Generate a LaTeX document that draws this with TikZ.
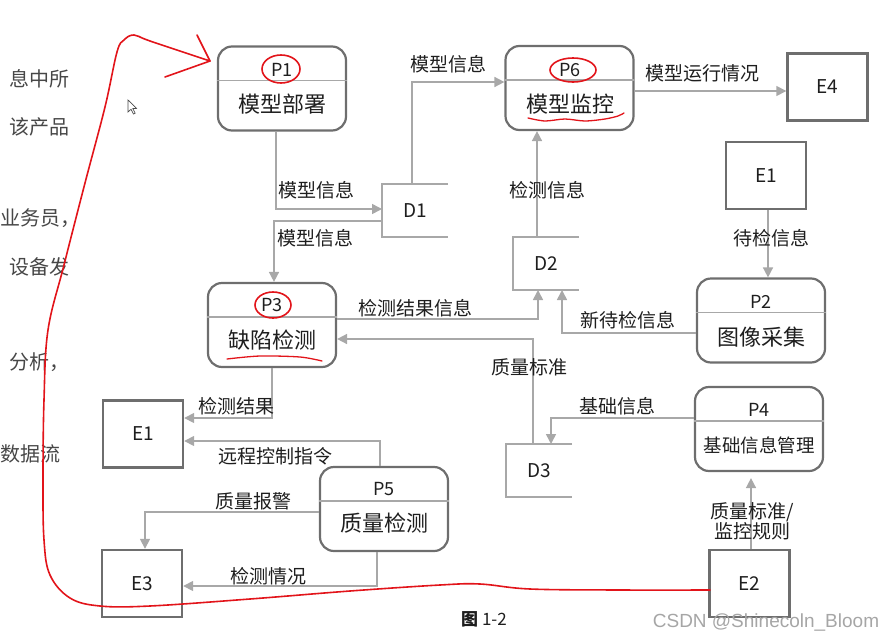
\documentclass[tikz,border=0pt]{standalone}
\usepackage{fontspec}
\setmainfont{Noto Sans CJK SC}
\newfontfamily\wmfont{Liberation Sans}
\usetikzlibrary{arrows.meta}
\definecolor{boxc}{HTML}{6E6E6E}
\definecolor{linec}{HTML}{A8A8A8}
\definecolor{txtc}{HTML}{1E1E1E}
\definecolor{redc}{HTML}{E2141A}
\begin{document}
\begin{tikzpicture}[x=1pt,y=-1pt,
  proc/.style={draw=boxc, line width=2.2pt, rounded corners=14pt, minimum width=128pt, minimum height=84pt, inner sep=0pt},
  ent/.style={draw=boxc, line width=2.4pt, minimum width=80pt, minimum height=67pt, inner sep=0pt, font=\fontsize{19}{21}\selectfont, text=txtc},
  store/.style={minimum width=66pt, minimum height=53pt, inner sep=0pt, outer sep=0pt, font=\fontsize{19}{21}\selectfont, text=txtc},
  storeline/.style={draw=linec, line width=1.6pt},
  divider/.style={draw=linec, line width=1.4pt},
  flow/.style={draw=linec, line width=1.6pt, -{Triangle[length=10pt,width=10pt]}},
  lbl/.style={font=\fontsize{19}{21}\selectfont, text=txtc, inner sep=0pt},
  ptitle/.style={font=\fontsize{18}{20}\selectfont, text=txtc, inner sep=0pt},
  pname/.style={font=\fontsize{22}{24}\selectfont, text=txtc, inner sep=0pt},
  annot/.style={draw=redc, line width=1.6pt, line cap=round, line join=round},
  lefttxt/.style={font=\fontsize{20}{22}\selectfont, text=black!72, inner sep=0pt, anchor=east}
]
\useasboundingbox (0,0) rectangle (894,640);
\clip (0,0) rectangle (894,640);

% left page text (page edge)
\node[lefttxt] (T1) at (70,79) {息中所};
\node[lefttxt] (T2) at (70,127) {该产品};
\node[lefttxt] (T3) at (80.5,218) {业务员，};
\node[lefttxt] (T4) at (70,267) {设备发};
\node[lefttxt] (T5) at (70,362) {分析，};
\node[lefttxt] (T6) at (60.5,454) {数据流};

% cursor
\draw[black!70, line width=0.7pt, fill=white] (128,100) -- (128,112) -- (131,109.3) -- (133.5,114) -- (135.2,113.2) -- (132.8,108.6) -- (136.5,108.4) -- cycle;

% processes
\node[proc] (P1) at (282,88.5) {};
\node[proc] (P6) at (569.5,88) {};
\node[proc] (P3) at (272,325) {};
\node[proc] (P2) at (761,320.5) {};
\node[proc] (P4) at (759,429) {};
\node[proc] (P5) at (384,509) {};
\foreach \p in {P1,P6,P3,P2,P4,P5}
  \draw[divider] ([yshift=-35pt]\p.north west) -- ([yshift=-35pt]\p.north east);

\node[ptitle] (P1t) at (282,70) {P1};
\node[pname]  (P1n) at (282,104) {模型部署};
\node[ptitle] (P6t) at (570,70) {P6};
\node[pname]  (P6n) at (570,104) {模型监控};
\node[ptitle] (P3t) at (272,305) {P3};
\node[pname]  (P3n) at (272,340) {缺陷检测};
\node[ptitle] (P2t) at (761,302) {P2};
\node[pname]  (P2n) at (761,337) {图像采集};
\node[ptitle] (P4t) at (759,410) {P4};
\node[pname, font=\fontsize{18.5}{20}\selectfont] (P4n) at (759,445) {基础信息管理};
\node[ptitle] (P5t) at (384,489) {P5};
\node[pname]  (P5n) at (384,523) {质量检测};

% external entities
\node[ent] (E4) at (827.5,87) {E4};
\node[ent] (E1a) at (766,175.5) {E1};
\node[ent] (E1b) at (143,434) {E1};
\node[ent] (E3) at (142,583.5) {E3};
\node[ent] (E2) at (749.5,583.5) {E2};

% data stores
\node[store] (D1) at (415,210.5) {D1};
\node[store] (D2) at (546,263.5) {D2};
\node[store] (D3) at (539,470.5) {D3};
\foreach \d in {D1,D2,D3}
  \draw[storeline] (\d.north east) -- (\d.north west) -- (\d.south west) -- (\d.south east);

% flows
\draw[flow] ([xshift=-6pt]P1.south) |- ([yshift=1.5pt]D1.west);
\draw[flow] ([yshift=-10.5pt]D1.west) -| ([xshift=2pt]P3.north);
\draw[flow] ([xshift=-3pt]D1.north) |- ([yshift=6pt]P6.west);
\draw[flow] ([yshift=-3pt]P6.east) -- ([yshift=-3pt]P6.east -| E4.west);
\draw[flow] ([xshift=-9pt]D2.north) -- ([xshift=-9pt]D2.north |- P6.south);
\draw[flow] ([xshift=2pt]E1a.south) -- ([xshift=2pt]E1a.south |- P2.north);
\draw[flow] ([yshift=-12.5pt]P2.west) -| ([xshift=16pt]D2.south);
\draw[flow] ([yshift=6pt]P3.east) -| ([xshift=-8pt]D2.south);
\draw[flow] ([xshift=-6pt]D3.north) |- ([yshift=-14pt]P3.east);
\draw[flow] ([yshift=11pt]P4.west) -| ([xshift=12pt]D3.north);
\draw[flow, shorten >=6pt] ([xshift=1.5pt]E2.north) -- ([xshift=1.5pt]E2.north |- P4.south);
\draw[flow] (P3.south) |- ([yshift=16pt]E1b.east);
\draw[flow] ([xshift=-4pt]P5.north) |- ([yshift=-7pt]E1b.east);
\draw[flow] ([yshift=-3pt]P5.west) -| ([xshift=3pt]E3.north);
\draw[flow] ([xshift=-7pt]P5.south) |- ([yshift=-2.5pt]E3.east);

% flow labels
\node[lbl] (L1) at (316.5,190) {模型信息};
\node[lbl] (L2) at (315,238) {模型信息};
\node[lbl] (L3) at (448,64) {模型信息};
\node[lbl] (L4) at (702,73) {模型运行情况};
\node[lbl] (L5) at (547,190) {检测信息};
\node[lbl] (L6) at (771,238) {待检信息};
\node[lbl] (L7) at (628,320) {新待检信息};
\node[lbl] (L8) at (415,308) {检测结果信息};
\node[lbl] (L9) at (529,367) {质量标准};
\node[lbl] (L10) at (617,406) {基础信息};
\node[lbl, align=center, font=\fontsize{19}{19}\selectfont] (L11) at (752,521) {质量标准/\\监控规则};
\node[lbl] (L12) at (236,406) {检测结果};
\node[lbl] (L13) at (275,456) {远程控制指令};
\node[lbl] (L14) at (253,501) {质量报警};
\node[lbl] (L15) at (268,576) {检测情况};

% caption and watermark
\node[inner sep=0pt, font=\fontsize{17}{19}\selectfont, text=txtc] (cap) at (484,619) {\textbf{图} 1-2};
\node[inner sep=0pt, font=\wmfont\fontsize{19}{21}\selectfont, text=black!35] (wm) at (766,622) {CSDN @Shinecoln\_Bloom};

% red annotations
\draw[annot] plot[smooth, tension=0.6] coordinates {(210,61) (150,41) (134,35) (124,40) (117,52) (105,107) (85,183) (64,265) (48,330) (44,400) (43,480) (44,540) (50,575) (70,598) (100,606) (150,606) (250,599) (350,591) (440,585) (480,584) (530,589) (620,590) (710,590)};
\draw[annot] (197,35) -- (210,61) -- (165,77);
\draw[annot] (281,69) ellipse [x radius=19, y radius=14];
\draw[annot] (573,70) ellipse [x radius=23, y radius=12];
\draw[annot] (273,305) ellipse [x radius=18, y radius=13];
\draw[annot, line width=1.3pt] plot[smooth] coordinates {(528,118) (545,121) (565,119) (585,121) (605,119) (618,116) (624,113)};
\draw[annot, line width=1.3pt] plot[smooth] coordinates {(227,359) (260,356) (300,357) (322,361)};
\end{tikzpicture}
\end{document}
